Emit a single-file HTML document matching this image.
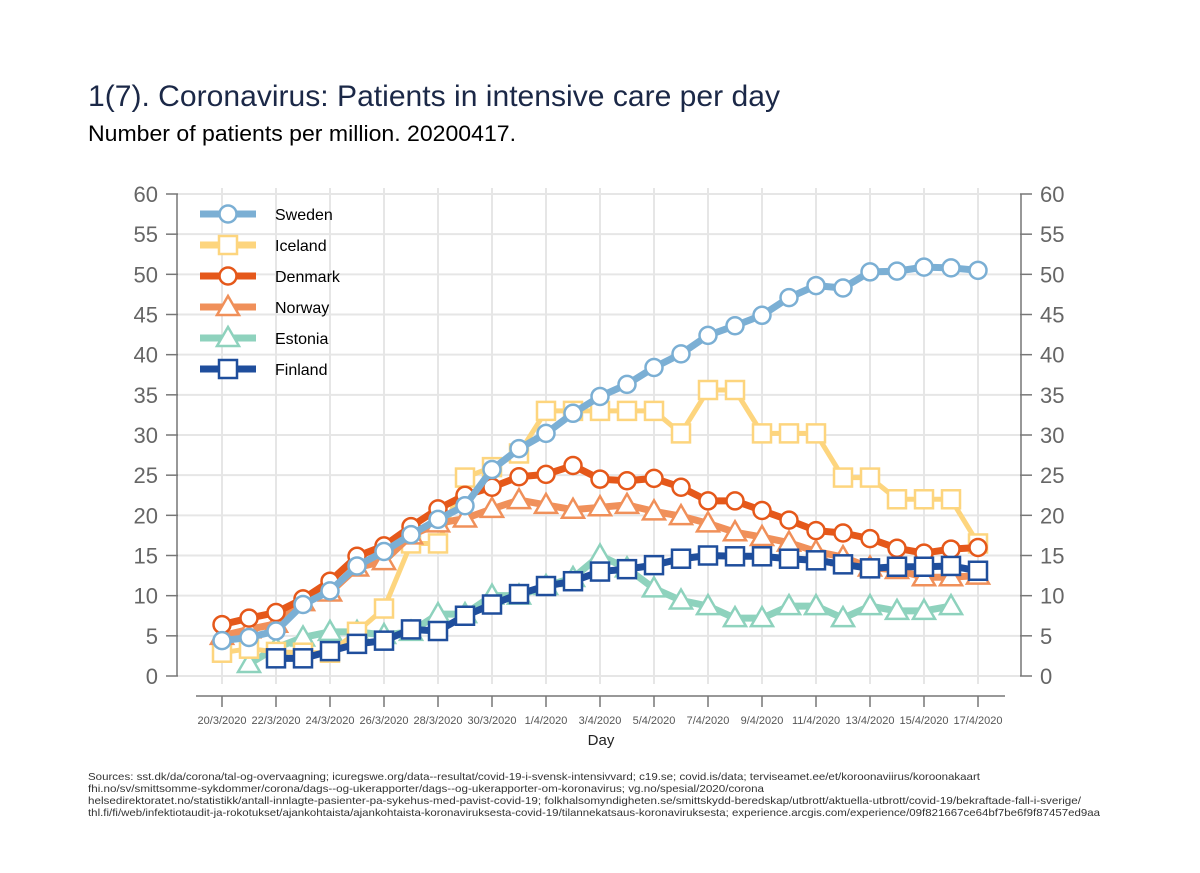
<!DOCTYPE html>
<html><head><meta charset="utf-8"><style>
html,body{margin:0;padding:0;background:#fff;}
svg{display:block;font-family:"Liberation Sans",Arial,sans-serif;}
</style></head><body>
<svg id="chart" width="1200" height="873" viewBox="0 0 1200 873">
<text x="88" y="106" font-size="29.5" fill="#1b2847" textLength="692" lengthAdjust="spacingAndGlyphs">1(7). Coronavirus: Patients in intensive care per day</text>
<text x="88" y="141" font-size="22.5" fill="#000" textLength="428" lengthAdjust="spacingAndGlyphs">Number of patients per million. 20200417.</text>
<g id="grid"></g>
<g id="axes"></g>
<g id="series"></g>
<g id="legend"></g>
<text x="601" y="745" font-size="15" fill="#222" text-anchor="middle">Day</text>
<g font-size="10.5" fill="#333">
<text x="88" y="780" textLength="892" lengthAdjust="spacingAndGlyphs">Sources: sst.dk/da/corona/tal-og-overvaagning; icuregswe.org/data--resultat/covid-19-i-svensk-intensivvard; c19.se; covid.is/data;  terviseamet.ee/et/koroonaviirus/koroonakaart</text>
<text x="88" y="792" textLength="676" lengthAdjust="spacingAndGlyphs">fhi.no/sv/smittsomme-sykdommer/corona/dags--og-ukerapporter/dags--og-ukerapporter-om-koronavirus; vg.no/spesial/2020/corona</text>
<text x="88" y="804" textLength="993" lengthAdjust="spacingAndGlyphs">helsedirektoratet.no/statistikk/antall-innlagte-pasienter-pa-sykehus-med-pavist-covid-19; folkhalsomyndigheten.se/smittskydd-beredskap/utbrott/aktuella-utbrott/covid-19/bekraftade-fall-i-sverige/</text>
<text x="88" y="816" textLength="1012" lengthAdjust="spacingAndGlyphs">thl.fi/fi/web/infektiotaudit-ja-rokotukset/ajankohtaista/ajankohtaista-koronaviruksesta-covid-19/tilannekatsaus-koronaviruksesta; experience.arcgis.com/experience/09f821667ce64bf7be6f9f87457ed9aa</text>
</g>
</svg>
<script>
const dayLabels = ["20/3/2020","22/3/2020","24/3/2020","26/3/2020","28/3/2020","30/3/2020","1/4/2020","3/4/2020","5/4/2020","7/4/2020","9/4/2020","11/4/2020","13/4/2020","15/4/2020","17/4/2020"];
const yTicks = [0,5,10,15,20,25,30,35,40,45,50,55,60];
const sweden = [4.4,4.8,5.6,8.9,10.6,13.7,15.5,17.6,19.5,21.2,25.7,28.3,30.2,32.7,34.8,36.3,38.4,40.1,42.4,43.6,44.9,47.1,48.6,48.3,50.3,50.4,50.9,50.8,50.5];
const iceland = [2.9,3.4,3.0,2.9,2.9,5.5,8.4,16.5,16.5,24.7,26.0,27.7,33,33,33,33,33,30.2,35.6,35.6,30.2,30.2,30.2,24.7,24.7,22,22,22,16.5];
const denmark = [6.4,7.2,7.9,9.6,11.8,14.9,16.2,18.6,20.8,22.5,23.5,24.8,25.1,26.2,24.5,24.3,24.6,23.5,21.8,21.8,20.6,19.4,18.1,17.8,17.1,15.9,15.3,15.8,16.0];
const norway = [5.0,5.8,6.5,9.2,10.4,13.5,14.3,17.5,19.0,19.6,20.8,21.9,21.3,20.7,21.0,21.3,20.5,19.9,19.0,17.9,17.3,16.6,15.5,14.8,13.5,13.2,12.3,12.3,12.5];
const estonia = [null,1.5,3.5,4.8,5.5,5.5,5.1,5.5,7.7,7.7,10.0,10.0,11.2,12.2,15.0,13.4,10.9,9.4,8.7,7.2,7.2,8.7,8.7,7.2,8.7,8.1,8.1,8.7,null];
const finland = [null,null,2.2,2.2,3.1,4.0,4.4,5.8,5.6,7.5,8.9,10.2,11.2,11.8,13.0,13.3,13.8,14.6,15.0,14.9,14.9,14.6,14.4,13.9,13.4,13.6,13.6,13.7,13.1];
const seriesNames = ["Sweden","Iceland","Denmark","Norway","Estonia","Finland"];

const NS="http://www.w3.org/2000/svg";
const X0=222, DX=27, Y0=676, Y60=194;
const xs=d=>X0+d*DX;
const ys=v=>Y0-(v/60)*(Y0-Y60);
function mk(tag,attrs,parent){const e=document.createElementNS(NS,tag);for(const k in attrs)e.setAttribute(k,attrs[k]);parent.appendChild(e);return e;}
const grid=document.getElementById('grid'),axes=document.getElementById('axes'),ser=document.getElementById('series'),leg=document.getElementById('legend');
const gc="#e6e6e6";
yTicks.forEach(t=>{
  const l=mk('line',{x1:178,x2:1020,y1:ys(t),y2:ys(t),stroke:gc,'stroke-width':2},grid);
  
  
  const a=mk('line',{x1:166,x2:178,y1:ys(t),y2:ys(t),stroke:'#777','stroke-width':1.5},axes);
  
  
  const b=mk('line',{x1:1020,x2:1032,y1:ys(t),y2:ys(t),stroke:'#777','stroke-width':1.5},axes);
  
  
  const tl=mk('text',{x:158,y:ys(t)+8,'font-size':22,fill:'#666','text-anchor':'end'},axes);tl.textContent=t;
  
  
  const tr=mk('text',{x:1040,y:ys(t)+8,'font-size':22,fill:'#666'},axes);tr.textContent=t;
  
  
});
dayLabels.forEach((lab,i)=>{
  const x=xs(i*2);
  const g=mk('line',{x1:x,x2:x,y1:ys(60)-6,y2:Y0+8,stroke:gc,'stroke-width':2},grid);
  
  
  const tk=mk('line',{x1:x,x2:x,y1:696,y2:707,stroke:'#777','stroke-width':1.5},axes);
  
  
  const t=mk('text',{x:x,y:724,'font-size':11,fill:'#555','text-anchor':'middle'},axes);t.textContent=lab;
  
  
});
let al=mk('line',{x1:177,x2:177,y1:ys(60),y2:ys(0),stroke:'#777','stroke-width':1.5},axes);


al=mk('line',{x1:1021,x2:1021,y1:ys(60),y2:ys(0),stroke:'#777','stroke-width':1.5},axes);


al=mk('line',{x1:196,x2:1005,y1:696,y2:696,stroke:'#777','stroke-width':1.5},axes);



const styles=[
 {data:sweden,c:'#7bafd4',m:'circle',w:7},
 {data:iceland,c:'#fdd57e',m:'square',w:5},
 {data:denmark,c:'#e5581a',m:'circle',w:7},
 {data:norway,c:'#f0905a',m:'triangle',w:7},
 {data:estonia,c:'#8ed2bd',m:'triangle',w:7},
 {data:finland,c:'#1f4e9c',m:'square',w:7}];
function marker(type,x,y,c,parent){
  let e;
  if(type==='circle') e=mk('circle',{cx:x,cy:y,r:8.5,fill:'#fff',stroke:c,'stroke-width':2.5},parent);
  else if(type==='square') e=mk('rect',{x:x-9,y:y-9,width:18,height:18,fill:'#fff',stroke:c,'stroke-width':2.5},parent);
  else e=mk('polygon',{points:`${x},${y-11} ${x-11},${y+8} ${x+11},${y+8}`,fill:'#fff',stroke:c,'stroke-width':2.5},parent);
  return e;
}
const drawOrder=[4,1,3,2,0,5];
drawOrder.forEach(si=>{
  const s=styles[si];
  const g=mk('g',{},ser);
  
  
  let pts=[];
  s.data.forEach((v,d)=>{if(v!==null)pts.push(xs(d)+','+ys(v));});
  const pl=mk('polyline',{points:pts.join(' '),fill:'none',stroke:s.c,'stroke-width':s.w,'stroke-linejoin':'round'},g);
  
  
  s.data.forEach((v,d)=>{if(v===null)return;
    const m=marker(s.m,xs(d),ys(v),s.c,g);
    
    
  });
});
seriesNames.forEach((n,i)=>{
  const s=styles[i];const y=214+i*31;
  const g=mk('g',{},leg);
  
  
  mk('line',{x1:200,x2:256,y1:y,y2:y,stroke:s.c,'stroke-width':7},g);
  marker(s.m,228,y,s.c,g);
  const t=mk('text',{x:275,y:y+6,'font-size':16,fill:'#000'},g);t.textContent=n;
});
</script>
</body></html>
